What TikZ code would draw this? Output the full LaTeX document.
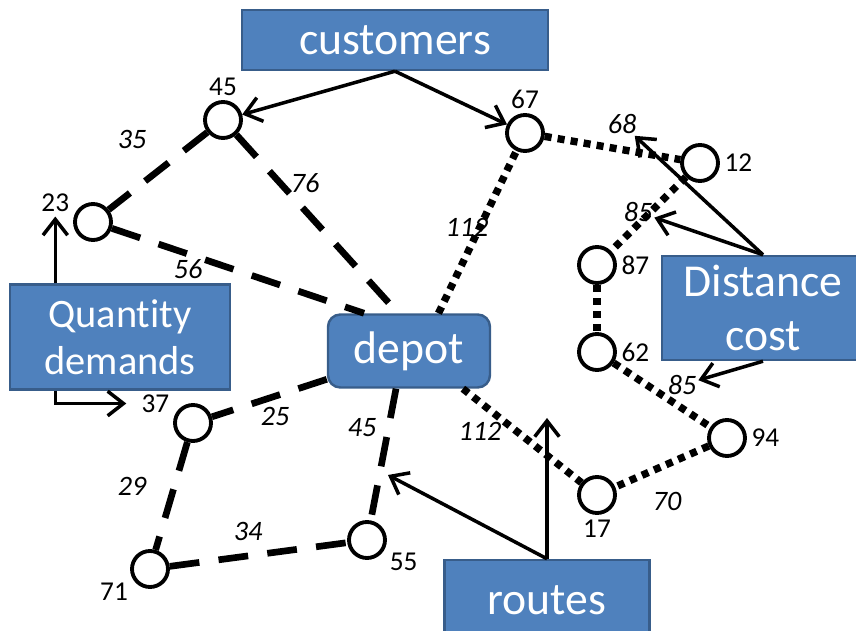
\documentclass[tikz,border=0pt]{standalone}
\usepackage{fontspec}
\setmainfont[Ligatures=NoCommon]{Carlito}
\usetikzlibrary{arrows.meta, positioning, calc}
\definecolor{boxblue}{RGB}{79, 129, 189}
\definecolor{boxedge}{RGB}{56, 93, 138}
\tikzset{
  infobox/.style={draw=boxedge, fill=boxblue, line width=1.4pt, text=white, align=center, inner sep=0pt, font=\fontsize{26}{31}\selectfont},
  cust/.style={circle, draw, fill=white, line width=2.2pt, minimum size=0.72cm, inner sep=0pt},
  numlab/.style={font=\fontsize{15.5}{17}\selectfont, inner sep=2.5pt},
  wlab/.style={font=\fontsize{16}{18}\selectfont\itshape, inner sep=1pt},
  dashline/.style={line width=3.8pt, dash pattern=on 17pt off 11pt},
  dotline/.style={line width=4.2pt, dash pattern=on 4pt off 3.5pt},
  arr/.style={line width=2pt, -{Straight Barb[length=9pt, width=14pt, line width=2pt]}}
}

\begin{document}
\begin{tikzpicture}[x=0.02cm, y=-0.02cm]
  \useasboundingbox (0,0) rectangle (856,631);

  % Boxes
  \node[infobox, minimum width=6.12cm, minimum height=1.2cm] (customers) at (395,40) {customers};
  \node[infobox, minimum width=4.4cm, minimum height=2.1cm, font=\fontsize{23}{27}\selectfont] (qty) at (120,337) {Quantity\\demands};
  \node[infobox, rounded corners=7pt, minimum width=3.24cm, minimum height=1.46cm] (depot) at (409,351) {depot};
  \node[infobox, minimum width=4.04cm, minimum height=2.08cm] (dist) at (763,308) {Distance\\cost};
  \node[infobox, minimum width=4.1cm, minimum height=1.6cm] (routes) at (547,600) {routes};

  % Customers
  \node[cust, label={[numlab, name=t45]above:45}] (n45) at (223,120) {};
  \node[cust, label={[numlab, name=t23]164:23}] (n23) at (93,222) {};
  \node[cust, label={[numlab, name=t67]above:67}] (n67) at (525,133) {};
  \node[cust, label={[numlab, name=t12]right:12}] (n12) at (700,163) {};
  \node[cust, label={[numlab, name=t87]right:87}] (n87) at (597,265) {};
  \node[cust, label={[numlab, name=t62]right:62}] (n62) at (597,352) {};
  \node[cust, label={[numlab, name=t94]right:94}] (n94) at (727,438) {};
  \node[cust, label={[numlab, name=t17]below:17}] (n17) at (597,495) {};
  \node[cust, label={[numlab, name=t37]163:37}] (n37) at (193,423) {};
  \node[cust, label={[numlab, name=t71]209:71}] (n71) at (150,569) {};
  \node[cust, label={[numlab, name=t55]-25:55}] (n55) at (367,540) {};

  % Route 1 (dashed)
  \draw[dashline] (n45) -- (n23);
  \draw[dashline] (n45) -- (depot.106);
  \draw[dashline] (n23) -- (depot.140);
  \draw[dashline] (depot.199) -- (n37);
  \draw[dashline] (depot.251) -- (n55);
  \draw[dashline] (n37) -- (n71);
  \draw[dashline] (n71) -- (n55);

  % Route 2 (dotted)
  \draw[dotline] (depot.52) -- (n67);
  \draw[dotline] (n67) -- (n12);
  \draw[dotline] (n12) -- (n87);
  \draw[dotline] (n87) -- (n62);
  \draw[dotline] (n62) -- (n94);
  \draw[dotline] (n94) -- (n17);
  \draw[dotline] (depot.325) -- (n17);

  % Distances
  \node[wlab] (w4523) at (132,139) {35};
  \node[wlab] (w45d) at (305,183) {76};
  \node[wlab] (w23d) at (188,269) {56};
  \node[wlab] (wd67) at (467,227) {112};
  \node[wlab] (w6712) at (622,124) {68};
  \node[wlab] (w1287) at (638,212) {85};
  \node[wlab] (w6294) at (682,385) {85};
  \node[wlab] (w9417) at (667,501) {70};
  \node[wlab] (wd17) at (480,431) {112};
  \node[wlab] (wd37) at (275,416) {25};
  \node[wlab] (wd55) at (362,428) {45};
  \node[wlab] (w3771) at (132,486) {29};
  \node[wlab] (w7155) at (248,531) {34};

  % Pointers
  \draw[arr] (customers.south) -- (n45);
  \draw[arr] (customers.south) -- (n67);
  \draw[arr] (qty.north -| t23) -- (t23);
  \draw[arr, shorten >=6pt] (qty.south -| t23) |- (t37.west);
  \draw[arr] (dist.north) -- (w6712);
  \draw[arr] (dist.north) -- (w1287);
  \draw[arr] (dist.south) -- (w6294);
  \coordinate (rtipa) at (547,418);
  \coordinate (rtipb) at (388,475);
  \draw[arr] (routes.north) -- (rtipa);
  \draw[arr] (routes.north) -- (rtipb);
\end{tikzpicture}
\end{document}
